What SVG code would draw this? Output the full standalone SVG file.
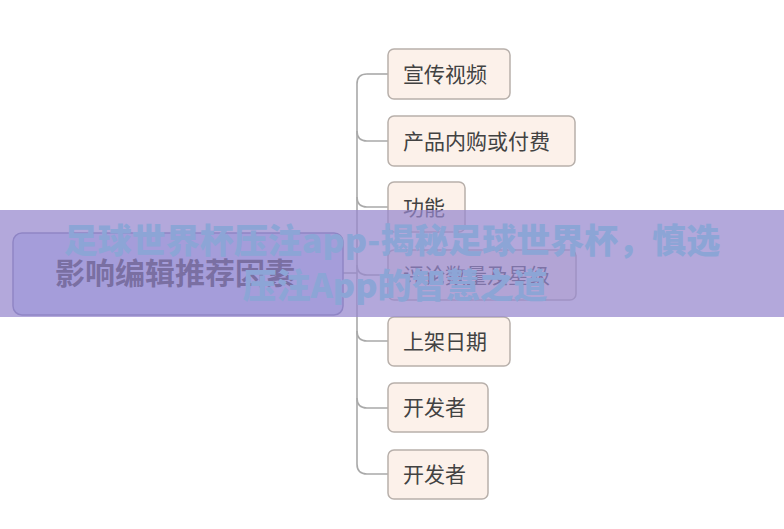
<svg xmlns="http://www.w3.org/2000/svg" width="784" height="529" viewBox="0 0 784 529">
<style>
.n rect{fill:#fcf1ea;stroke:#b8b0ab;stroke-width:1.5}
.n text{font-family:"Noto Sans CJK SC","Noto Sans",sans-serif;font-size:21px;fill:#424242}
.c path{fill:none;stroke:#a9a9a9;stroke-width:1.6}
.t{font-family:"Noto Sans CJK SC","Noto Sans",sans-serif;font-weight:900;font-size:34px;fill:#8ca5d6;text-anchor:middle}
</style>
<rect width="784" height="529" fill="#ffffff"/>
<g id="connectors" class="c">
<path d="M343 273 L357 273"/>
<path d="M367 74 Q357 74 357 84 L357 464 Q357 474 367 474 L388 474"/>
<path d="M367 74 L388 74"/>
<path d="M357 131 Q357 141 367 141 L388 141"/>
<path d="M357 197 Q357 207 367 207 L388 207"/>
<path d="M357 265 Q357 275 367 275 L388 275"/>
<path d="M357 331 Q357 341 367 341 L388 341"/>
<path d="M357 398 Q357 408 367 408 L388 408"/>
</g>
<g id="root">
<rect x="13" y="233" width="330" height="82" rx="9" fill="#cdd8fb" stroke="#7f82b0" stroke-width="1.5"/>
<text x="55" y="284" style="font-family:'Noto Sans CJK SC','Noto Sans',sans-serif;font-weight:bold;font-size:30px;fill:#333333">影响编辑推荐因素</text>
</g>
<g id="n1" class="n"><rect x="388" y="49" width="122" height="50" rx="6"/><text x="403" y="82">宣传视频</text></g>
<g id="n2" class="n"><rect x="388" y="116" width="187" height="50" rx="6"/><text x="403" y="149">产品内购或付费</text></g>
<g id="n3" class="n"><rect x="388" y="182" width="77" height="50" rx="6"/><text x="403" y="215">功能</text></g>
<g id="n4" class="n"><rect x="388" y="250" width="188" height="50" rx="6"/><text x="403" y="283">评论数量及星级</text></g>
<g id="n5" class="n"><rect x="388" y="317" width="122" height="49" rx="6"/><text x="403" y="349">上架日期</text></g>
<g id="n6" class="n"><rect x="388" y="383" width="100" height="49" rx="6"/><text x="403" y="415">开发者</text></g>
<g id="n7" class="n"><rect x="388" y="450" width="100" height="49" rx="6"/><text x="403" y="482">开发者</text></g>
<rect id="band" x="0" y="210" width="784" height="107" fill="rgb(150,135,205)" fill-opacity="0.72"/>
<g id="title">
<text class="t" x="392" y="253">足球世界杯压注app-揭秘足球世界杯，慎选</text>
<text class="t" x="395" y="298">压注App的智慧之道</text>
</g>
</svg>
